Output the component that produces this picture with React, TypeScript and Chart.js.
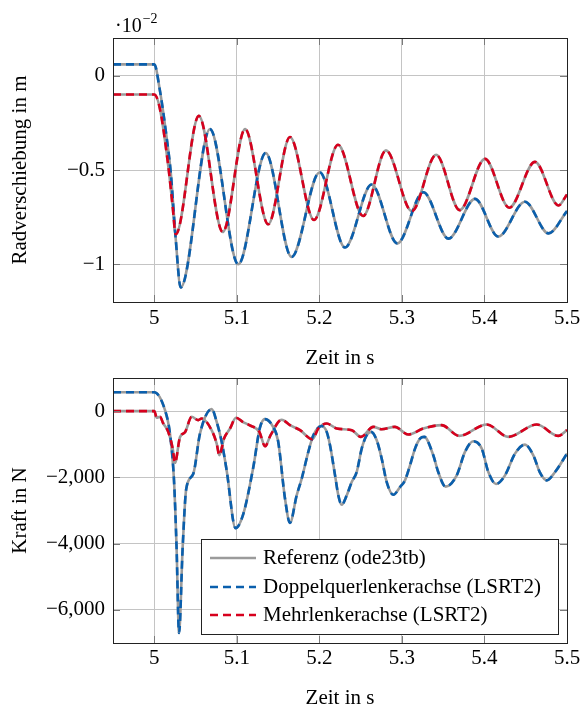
import React, { useEffect, useRef } from 'react';
import { Chart, registerables } from 'chart.js';
Chart.register(...registerables);

const FONT_FAMILY = "'Liberation Serif', 'Times New Roman', Times, serif";
const FS = 21;
const GRID = '#c4c4c4';
const GRAY = '#9b9b9b';
const BLUE = '#0a5fad';
const RED = '#d7001d';

const X_TICKS = [5, 5.1, 5.2, 5.3, 5.4, 5.5];
const DISP_Y_TICKS = [0, -0.5, -1];
const FORCE_Y_TICKS = [0, -2000, -4000, -6000];
const LEGEND_LABELS = ['Referenz (ode23tb)', 'Doppelquerlenkerachse (LSRT2)', 'Mehrlenkerachse (LSRT2)'];

// Radverschiebung (in 1e-2 m)
const dispDqlT = [4.95, 5.0, 5.0067, 5.0148, 5.02, 5.026, 5.032, 5.0675, 5.1018, 5.135, 5.1663, 5.2004, 5.231, 5.2633, 5.2944, 5.326, 5.3564, 5.3885, 5.4168, 5.449, 5.4776, 5.5];
const dispDqlY = [0.06, 0.06, -0.075, -0.322, -0.515, -0.867, -1.123, -0.283, -1.0, -0.41, -0.961, -0.512, -0.911, -0.577, -0.889, -0.618, -0.864, -0.653, -0.853, -0.668, -0.836, -0.718];
const dispMlT = [4.95, 5.0, 5.0067, 5.017, 5.0222, 5.026, 5.054, 5.083, 5.11, 5.138, 5.1644, 5.1935, 5.2226, 5.253, 5.2807, 5.312, 5.3415, 5.37, 5.4006, 5.43, 5.4612, 5.4897, 5.5];
const dispMlY = [-0.1, -0.1, -0.172, -0.48, -0.69, -0.841, -0.213, -0.829, -0.283, -0.788, -0.325, -0.765, -0.366, -0.744, -0.396, -0.718, -0.419, -0.713, -0.441, -0.7, -0.457, -0.688, -0.63];

// Kraft (in N)
const forceDqlT = [4.95, 5.0, 5.013, 5.019, 5.0239, 5.027, 5.03, 5.0344, 5.0387, 5.0473, 5.0554, 5.0696, 5.0756, 5.0817, 5.0877, 5.0985, 5.1079, 5.12, 5.128, 5.134, 5.144, 5.15, 5.1584, 5.1644, 5.1725, 5.1786, 5.1866, 5.1927, 5.2028, 5.2089, 5.2129, 5.219, 5.223, 5.227, 5.2331, 5.2392, 5.2452, 5.2513, 5.2574, 5.2626, 5.2695, 5.2755, 5.2816, 5.2896, 5.2977, 5.3037, 5.3098, 5.3159, 5.3219, 5.3271, 5.338, 5.344, 5.353, 5.3664, 5.3764, 5.3865, 5.3967, 5.4047, 5.414, 5.4249, 5.437, 5.4491, 5.4592, 5.4673, 5.4754, 5.4855, 5.5];
const forceDqlY = [570, 570, 30, -676, -2090, -4110, -6700, -4110, -2350, -1890, -676, 60, -323, -930, -1790, -3535, -3100, -1688, -500, -242, -475, -900, -2645, -3373, -2545, -2040, -1232, -727, -450, -627, -1030, -1939, -2545, -2828, -2545, -2142, -1839, -1131, -727, -627, -879, -1433, -2142, -2525, -2293, -2090, -1636, -1131, -828, -778, -1333, -1839, -2280, -1939, -1232, -909, -1131, -1839, -2200, -1939, -1283, -1010, -1333, -1858, -2090, -1839, -1283];
const forceMlT = [4.95, 5.0, 5.003, 5.0069, 5.0109, 5.0169, 5.0223, 5.0251, 5.0312, 5.0372, 5.0453, 5.0533, 5.0574, 5.0695, 5.0756, 5.0788, 5.0845, 5.0918, 5.099, 5.1071, 5.1152, 5.1273, 5.1342, 5.1409, 5.1544, 5.1644, 5.1766, 5.1915, 5.1988, 5.209, 5.2211, 5.2393, 5.2504, 5.2653, 5.2754, 5.2916, 5.3077, 5.3259, 5.348, 5.3695, 5.4027, 5.429, 5.4633, 5.4895, 5.5];
const forceMlY = [0, 0, -200, -170, -373, -626, -1131, -1560, -780, -640, -172, -273, -222, -576, -980, -1333, -828, -525, -200, -323, -424, -626, -1060, -727, -260, -424, -576, -848, -525, -373, -525, -576, -778, -475, -545, -475, -706, -525, -424, -748, -403, -778, -403, -748, -576];

const pts = (t: number[], y: number[]) => t.map((x, i) => ({ x, y: y[i] }));
const font = (size: number) => ({ family: FONT_FAMILY, size, lineHeight: 1.2 });
const minus = (s: string) => s.replace(/-/g, '\u2212');

const dashed = (data: any, color: string) => ({
  data, borderColor: color, backgroundColor: color, borderWidth: 2.6, borderDash: [8, 5],
  pointRadius: 0, cubicInterpolationMode: 'monotone', fill: false,
});
const ref = (data: any) => ({
  data, borderColor: GRAY, backgroundColor: GRAY, borderWidth: 2.6,
  pointRadius: 0, cubicInterpolationMode: 'monotone', fill: false,
});

const framePlugin = {
  id: 'frame',
  afterDatasetsDraw(chart: any) {
    const { ctx, chartArea: a, scales } = chart;
    ctx.save();
    ctx.strokeStyle = '#7a7a7a';
    ctx.lineWidth = 1;
    const tl = 7;
    scales.x.ticks.forEach((t: any) => {
      const px = Math.round(scales.x.getPixelForValue(t.value)) + 0.5;
      ctx.beginPath();
      ctx.moveTo(px, a.bottom); ctx.lineTo(px, a.bottom - tl);
      ctx.moveTo(px, a.top); ctx.lineTo(px, a.top + tl);
      ctx.stroke();
    });
    scales.y.ticks.forEach((t: any) => {
      const py = Math.round(scales.y.getPixelForValue(t.value)) + 0.5;
      ctx.beginPath();
      ctx.moveTo(a.left, py); ctx.lineTo(a.left + tl, py);
      ctx.moveTo(a.right, py); ctx.lineTo(a.right - tl, py);
      ctx.stroke();
    });
    ctx.strokeStyle = '#222';
    ctx.strokeRect(Math.round(a.left) + 0.5, Math.round(a.top) + 0.5, Math.round(a.right - a.left), Math.round(a.bottom - a.top));
    ctx.restore();
  },
};

const exponentPlugin = {
  id: 'exponent',
  afterDraw(chart: any) {
    const { ctx, chartArea: a } = chart;
    ctx.save();
    ctx.fillStyle = '#000';
    ctx.textBaseline = 'alphabetic';
    ctx.font = `20px ${FONT_FAMILY}`;
    const base = '\u00b710';
    const x0 = a.left + 2;
    ctx.fillText(base, x0, a.top - 6);
    const w = ctx.measureText(base).width;
    ctx.font = `14px ${FONT_FAMILY}`;
    ctx.fillText('\u22122', x0 + w + 1, a.top - 15);
    ctx.restore();
  },
};

const legendPlugin = {
  id: 'customLegend',
  afterDraw(chart: any) {
    const { ctx, chartArea: a } = chart;
    const w = 357, h = 95;
    const right = a.right - 9, bottom = a.bottom - 9;
    const left = right - w, top = bottom - h;
    ctx.save();
    ctx.fillStyle = '#fff';
    ctx.fillRect(left, top, w, h);
    ctx.strokeStyle = '#222';
    ctx.lineWidth = 1;
    ctx.strokeRect(Math.round(left) + 0.5, Math.round(top) + 0.5, w, h);
    const rows = [19, 48, 76];
    const styles = [
      { color: GRAY, dash: [] as number[] },
      { color: BLUE, dash: [8, 5] },
      { color: RED, dash: [8, 5] },
    ];
    rows.forEach((dy, i) => {
      const y = top + dy;
      ctx.strokeStyle = styles[i].color;
      ctx.lineWidth = 2.6;
      ctx.setLineDash(styles[i].dash);
      ctx.beginPath();
      ctx.moveTo(left + 9, y);
      ctx.lineTo(left + 55, y);
      ctx.stroke();
      ctx.setLineDash([]);
      ctx.fillStyle = '#000';
      ctx.font = `${FS}px ${FONT_FAMILY}`;
      ctx.textBaseline = 'middle';
      ctx.textAlign = 'left';
      ctx.fillText(LEGEND_LABELS[i], left + 62, y);
    });
    ctx.restore();
  },
};

function makeOptions(opts: {
  yMin: number; yMax: number; yTicks: number[]; yFmt: (v: number) => string; yTitle: string;
  xHeight: number; xTickPad: number; xTitlePad: number; padTop: number;
}) {
  return {
    animation: false,
    responsive: false,
    maintainAspectRatio: false,
    layout: { padding: { top: opts.padTop, right: 15, left: 0, bottom: 0 } },
    plugins: { legend: { display: false }, tooltip: { enabled: false } },
    scales: {
      x: {
        type: 'linear',
        min: 4.95,
        max: 5.5,
        afterBuildTicks: (s: any) => { s.ticks = X_TICKS.map((v) => ({ value: v })); },
        ticks: {
          font: font(FS), color: '#000', padding: opts.xTickPad, maxRotation: 0, autoSkip: false,
          callback: (v: any) => String(Number(Number(v).toFixed(2))),
        },
        grid: { color: GRID, drawTicks: false, lineWidth: 1 },
        border: { display: false },
        title: { display: true, text: 'Zeit in s', font: font(FS), color: '#000', padding: { top: 0, bottom: opts.xTitlePad } },
        afterFit: (s: any) => { s.height = opts.xHeight; s.paddingLeft = 0; s.paddingRight = 0; },
      },
      y: {
        type: 'linear',
        min: opts.yMin,
        max: opts.yMax,
        afterBuildTicks: (s: any) => { s.ticks = opts.yTicks.map((v) => ({ value: v })); },
        ticks: { font: font(FS), color: '#000', padding: 8, autoSkip: false, callback: (v: any) => opts.yFmt(Number(v)) },
        grid: { color: GRID, drawTicks: false, lineWidth: 1 },
        border: { display: false },
        title: { display: true, text: opts.yTitle, font: font(FS), color: '#000', padding: { top: 8, bottom: 0 } },
        afterFit: (s: any) => { s.width = 113; s.paddingTop = 0; s.paddingBottom = 0; },
      },
    },
  };
}

export default function App() {
  const c1 = useRef<HTMLCanvasElement>(null);
  const c2 = useRef<HTMLCanvasElement>(null);

  useEffect(() => {
    const dispDql = pts(dispDqlT, dispDqlY);
    const dispMl = pts(dispMlT, dispMlY);
    const forceDql = pts(forceDqlT, forceDqlY);
    const forceMl = pts(forceMlT, forceMlY);

    const chart1 = new Chart(c1.current as HTMLCanvasElement, {
      type: 'line',
      data: { datasets: [dashed(dispMl, RED), dashed(dispDql, BLUE), ref(dispDql), ref(dispMl)] as any },
      options: makeOptions({
        yMin: -1.2, yMax: 0.2, yTicks: DISP_Y_TICKS,
        yFmt: (v) => minus(String(v)), yTitle: 'Radverschiebung in m',
        xHeight: 70, xTickPad: 4, xTitlePad: 1, padTop: 38,
      }) as any,
      plugins: [framePlugin, exponentPlugin],
    });

    const chart2 = new Chart(c2.current as HTMLCanvasElement, {
      type: 'line',
      data: { datasets: [dashed(forceMl, RED), dashed(forceDql, BLUE), ref(forceDql), ref(forceMl)] as any },
      options: makeOptions({
        yMin: -7000, yMax: 1000, yTicks: FORCE_Y_TICKS,
        yFmt: (v) => minus(v.toLocaleString('en-US')), yTitle: 'Kraft in N',
        xHeight: 73, xTickPad: 3, xTitlePad: 5, padTop: 6,
      }) as any,
      plugins: [framePlugin, legendPlugin],
    });

    return () => { chart1.destroy(); chart2.destroy(); };
  }, []);

  return (
    <div style={{ position: 'absolute', left: 0, top: 0, width: 582, height: 706, overflow: 'hidden', background: '#fff' }}>
      <canvas ref={c1} width={582} height={372} style={{ position: 'absolute', left: 0, top: 0 }} />
      <canvas ref={c2} width={582} height={344} style={{ position: 'absolute', left: 0, top: 372 }} />
    </div>
  );
}
